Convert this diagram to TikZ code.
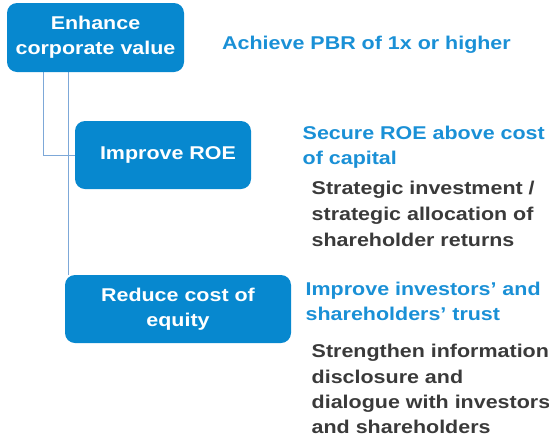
\documentclass[tikz,border=0pt]{standalone}
\usepackage{fontspec}
\setmainfont[FakeStretch=1.16]{Liberation Sans}
\usetikzlibrary{backgrounds}
\definecolor{boxblue}{HTML}{0788CF}
\definecolor{textblue}{HTML}{1A90D6}
\definecolor{linkblue}{HTML}{7DA8D8}
\definecolor{darktext}{HTML}{3A3A3A}
\begin{document}
\begin{tikzpicture}[x=1pt,y=-1pt,
  goal/.style={draw=none, fill=boxblue, rounded corners=10pt, text=white,
    align=center, inner sep=0pt,
    font=\fontsize{18.5}{25}\selectfont\bfseries},
  link/.style={draw=linkblue, line width=1pt},
  headline/.style={anchor=base west, inner sep=0pt, text=textblue,
    font=\fontsize{18.5}{22}\selectfont\bfseries},
  detail/.style={anchor=base west, inner sep=0pt, text=darktext,
    font=\fontsize{18.5}{22}\selectfont\bfseries}]
\useasboundingbox (0,0) rectangle (549,437);

% boxes
\node[goal, minimum width=177pt, minimum height=69pt] (value) at (95.5,37.5)
  {Enhance\\corporate value};
\node[goal, minimum width=176pt, minimum height=68pt] (roe) at (163,155)
  {\hspace*{10pt}Improve ROE};
\node[goal, minimum width=226pt, minimum height=68pt] (equity) at (178,309)
  {Reduce cost of\\equity};

% tree connectors, behind the boxes
\path (value.south west) ++(37,0) coordinate (tapA);
\path (value.south west) ++(62,0) coordinate (tapB);
\begin{pgfonlayer}{background}
\draw[link] (tapA) |- (roe.west);
\draw[link] (tapB) -- (tapB |- equity.north);
\end{pgfonlayer}

% targets and measures
\node[headline] (pbr) at (222,49) {Achieve PBR of 1x or higher};

\node[headline] (roeA) at (302.5,139) {Secure ROE above cost};
\node[headline] (roeB) at (302.5,164.5) {of capital};
\node[detail] (invA) at (311.5,194) {Strategic investment /};
\node[detail] (invB) at (311.5,220) {strategic allocation of};
\node[detail] (invC) at (311.5,246) {shareholder returns};

\node[headline] (trustA) at (305.5,295) {Improve investors’ and};
\node[headline] (trustB) at (305.5,320.5) {shareholders’ trust};
\node[detail] (discA) at (311.5,357.5) {Strengthen information};
\node[detail] (discB) at (311.5,383) {disclosure and};
\node[detail] (discC) at (311.5,408) {dialogue with investors};
\node[detail] (discD) at (311.5,433) {and shareholders};
\end{tikzpicture}
\end{document}
